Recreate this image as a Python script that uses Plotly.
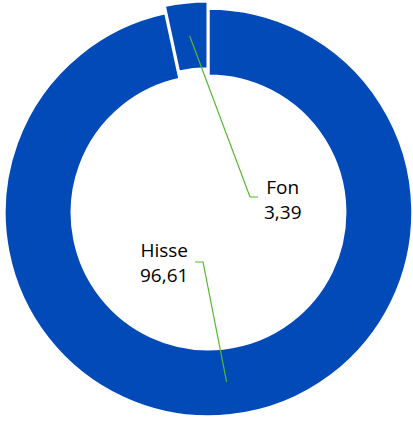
import math
import plotly.graph_objects as go

# ---- data ----
labels = ["Hisse", "Fon"]
values = [96.61, 3.39]
value_text = ["96,61", "3,39"]

# ---- style / layout ----
W, H = 413, 423
BLUE = "#034AB9"
GREEN = "#55B82E"
CX, CY, R = 208.5, 212.5, 204.0      # pixel centre and outer radius of ring
HOLE = 0.67
PULL = 0.036                         # Fon slice pulled out
# label block centres (pixels) and elbow points of leader lines
label_pos = {"Hisse": (164, 262.5), "Fon": (283, 199.5)}
elbow = {"Hisse": [(203, 262), (195, 262)], "Fon": [(250, 197), (258, 197)]}


def px2paper(x, y):
    return x / W, 1 - y / H


def domain(cx, cy, r):
    x0, y1 = px2paper(cx - r, cy - r)
    x1, y0 = px2paper(cx + r, cy + r)
    return dict(x=[max(0, x0), min(1, x1)], y=[max(0, y0), min(1, y1)])


total = sum(values)
# mid angles (clockwise from 12 o'clock)
cum = 0
mid = {}
for lab, v in zip(labels, values):
    mid[lab] = 2 * math.pi * (cum + v / 2) / total
    cum += v

# pull offset for Fon
off = R * PULL
fcx = CX + off * math.sin(mid["Fon"])
fcy = CY - off * math.cos(mid["Fon"])

fig = go.Figure()
common = dict(labels=labels, values=values, hole=HOLE, sort=False,
              direction="clockwise", rotation=0, textinfo="none",
              hoverinfo="skip", showlegend=False)
fig.add_trace(go.Pie(**common, domain=domain(CX, CY, R),
                     marker=dict(colors=[BLUE, "rgba(0,0,0,0)"],
                                 line=dict(color="white", width=[2.5, 0]))))
fig.add_trace(go.Pie(**common, domain=domain(fcx, fcy, R),
                     marker=dict(colors=["rgba(0,0,0,0)", BLUE],
                                 line=dict(color="white", width=[0, 2.5]))))

# leader lines + labels
rmid = R * (1 + HOLE) / 2
centres = {"Hisse": (CX, CY), "Fon": (fcx, fcy)}
shapes = []
annotations = []
for lab, txt in zip(labels, value_text):
    cx, cy = centres[lab]
    a = mid[lab]
    sx, sy = cx + rmid * math.sin(a), cy - rmid * math.cos(a)
    pts = [(sx, sy)] + elbow[lab]
    path = "M " + " L ".join("%f,%f" % px2paper(x, y) for x, y in pts)
    shapes.append(dict(type="path", path=path, xref="paper", yref="paper",
                       line=dict(color=GREEN, width=1.2)))
    lx, ly = px2paper(*label_pos[lab])
    annotations.append(dict(x=lx, y=ly, xref="paper", yref="paper",
                            text=f"{lab}<br>{txt}", showarrow=False,
                            xanchor="center", yanchor="middle", align="center",
                            font=dict(family="Open Sans", size=19, color="#000000")))

fig.update_layout(width=W, height=H, margin=dict(l=0, r=0, t=0, b=0),
                  paper_bgcolor="white", plot_bgcolor="white",
                  shapes=shapes, annotations=annotations)

fig.write_html("out.html", config={"displayModeBar": False},
               post_script="document.body.style.margin='0';"
                           "document.body.style.overflow='hidden';")
